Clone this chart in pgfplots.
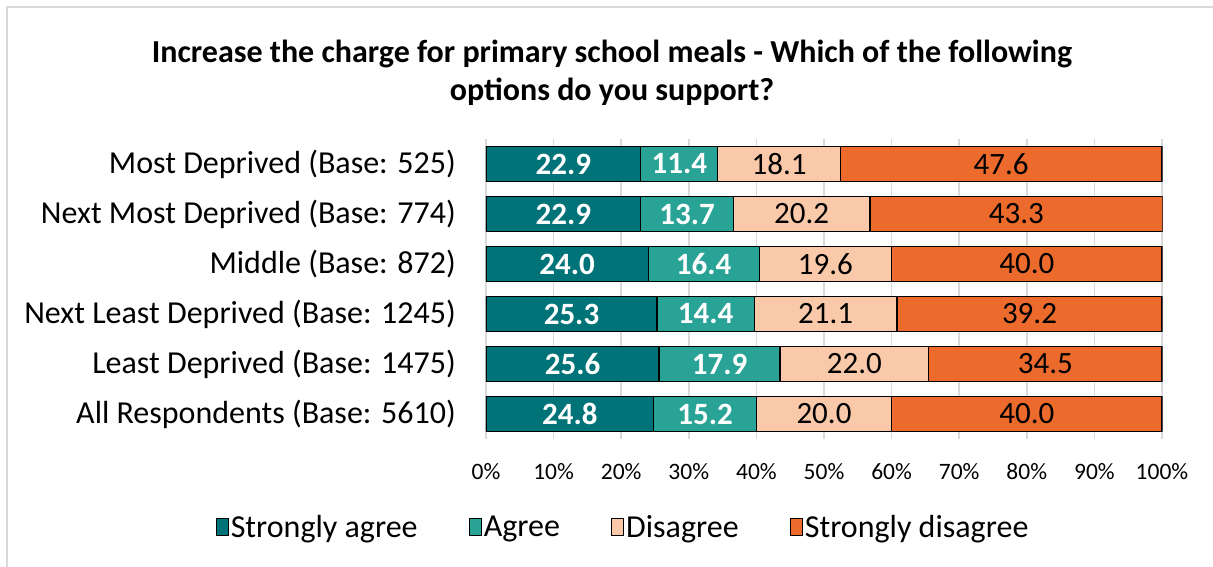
\documentclass[border=0pt]{standalone}
\usepackage{fontspec}
\setmainfont{Carlito}
\usepackage{pgfplots}
\usepackage{pgfplotstable}
\pgfplotsset{compat=1.18}
\definecolor{sa}{HTML}{007378}
\definecolor{ag}{HTML}{29A396}
\definecolor{di}{HTML}{F9C9A9}
\definecolor{sd}{HTML}{EC6A2C}
\definecolor{gridc}{HTML}{D9D9D9}
% cat: 0 All, 1 Least, 2 Next Least, 3 Middle, 4 Next Most, 5 Most
\pgfplotstableread{
cat val
0 24.8
1 25.6
2 25.3
3 24.0
4 22.9
5 22.9
}\tsa
\pgfplotstableread{
cat val
0 15.2
1 17.9
2 14.4
3 16.4
4 13.7
5 11.4
}\tagr
\pgfplotstableread{
cat val
0 20.0
1 22.0
2 21.1
3 19.6
4 20.2
5 18.1
}\tdi
\pgfplotstableread{
cat val
0 40.0
1 34.5
2 39.2
3 40.0
4 43.3
5 47.6
}\tsd
\begin{document}
\begin{tikzpicture}[x=1pt,y=1pt]
\path[use as bounding box] (0,0) rectangle (1213,567);
\draw[gridc, line width=1.5pt] (7,0) -- (7,560) -- (1213,560);
\node[font=\fontsize{32}{38}\selectfont\bfseries, anchor=base] at (612,504) {Increase the charge for primary school meals - Which of the following};
\node[font=\fontsize{32}{38}\selectfont\bfseries, anchor=base] at (612,466) {options do you support?};
\begin{axis}[
  at={(486pt,128pt)}, anchor=south west,
  scale only axis, width=676.676pt, height=300pt,
  xbar stacked, bar width=35pt,
  xmin=0, xmax=100.1, ymin=-0.5, ymax=5.5,
  axis line style={draw=none},
  xmajorgrids, grid style={gridc, line width=1.5pt},
  xtick={0,10,...,100},
  xticklabel={\pgfmathprintnumber{\tick}\%},
  xticklabel style={font=\fontsize{23.5}{28}\selectfont, anchor=north, inner sep=0pt, yshift=-24pt},
  /pgf/number format/assume math mode=true,
  ytick={0,1,2,3,4,5},
  yticklabels={All Respondents (Base: 5610),Least Deprived (Base: 1475),Next Least Deprived (Base: 1245),Middle (Base: 872),Next Most Deprived (Base: 774),Most Deprived (Base: 525)},
  yticklabel style={font=\fontsize{32}{38}\selectfont, anchor=east, inner sep=0pt, xshift=-30pt},
  major tick length=0pt,
  visualization depends on={\thisrow{val} \as \seg},
  nodes near coords={\pgfmathprintnumber[fixed,fixed zerofill,precision=1]{\seg}},
  every node near coord/.append style={anchor=center, inner sep=0pt, font=\fontsize{31}{36}\selectfont},
  legend columns=4,
  legend style={at={(0.2025,-0.2933)}, anchor=center, draw=none, font=\fontsize{32}{36}\selectfont,
    /tikz/every even column/.append style={column sep=49pt}, inner sep=0pt},
  legend image code/.code={\draw[#1, draw=black, line width=1.2pt] (0pt,-8.5pt) rectangle (12pt,8.5pt);},
]
\addplot[fill=sa, draw=black, line width=1.2pt, every node near coord/.append style={text=white, font=\fontsize{31}{36}\selectfont\bfseries}] table[x=val, y=cat] {\tsa};
\addplot[fill=ag, draw=black, line width=1.2pt, every node near coord/.append style={text=white, font=\fontsize{31}{36}\selectfont\bfseries}] table[x=val, y=cat] {\tagr};
\addplot[fill=di, draw=black, line width=1.2pt, every node near coord/.append style={text=black}] table[x=val, y=cat] {\tdi};
\addplot[fill=sd, draw=black, line width=1.2pt, every node near coord/.append style={text=black}] table[x=val, y=cat] {\tsd};
\legend{Strongly agree,Agree,Disagree,Strongly disagree}
\end{axis}
\end{tikzpicture}
\end{document}
